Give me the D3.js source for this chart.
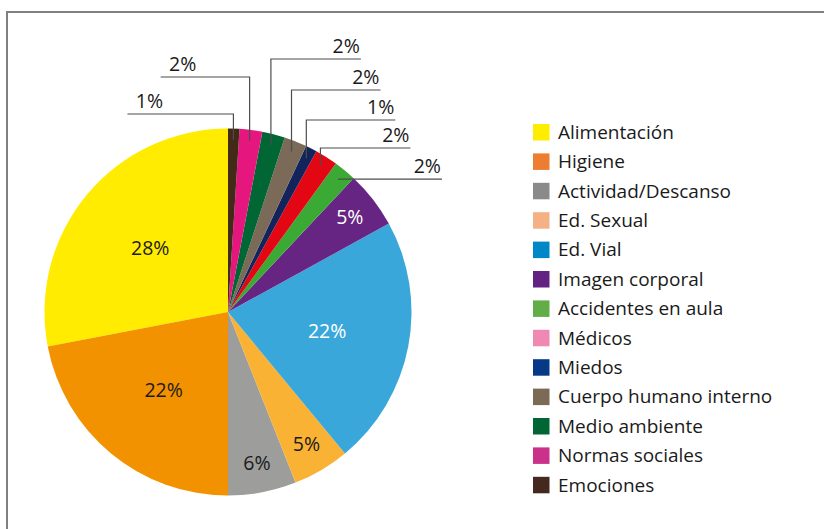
<!DOCTYPE html>
<html><head><meta charset="utf-8">
<script src="https://cdn.jsdelivr.net/npm/d3@7"></script>
<style>
html,body{margin:0;padding:0;background:#fff;}
svg{display:block;font-family:"Open Sans",sans-serif;}
</style></head>
<body>
<svg id="chart" width="824" height="529"></svg>
<script>
// ---- data ----
const categories = ["Alimentación","Higiene","Actividad/Descanso","Ed. Sexual","Ed. Vial","Imagen corporal","Accidentes en aula","Médicos","Miedos","Cuerpo humano interno","Medio ambiente","Normas sociales","Emociones"];
const values = [28,22,6,5,22,5,2,2,1,2,2,2,1];
const sliceColors = ["#ffec00","#f39200","#9d9d9c","#f9b233","#3aa7db","#662483","#3aaa35","#e30613","#13235b","#7b6a58","#006633","#e5177e","#432918"];
const legendColors = ["#ffed00","#ed7d31","#8a8a8a","#f4b183","#0087c7","#632282","#62ad47","#ef88b3","#063a87","#7b6a55","#006633","#c9318a","#45291e"];
const labelTextColors = ["#1a1a1a","#1a1a1a","#1a1a1a","#1a1a1a","#ffffff","#ffffff"];

// ---- layout (positions, not data) ----
const W = 824, H = 529;
const cx = 228, cy = 312, R = 183.5;
// outside-leader layout for the small slices: index, side, y offset from pie top, line length
const leaders = [
  {i:6, side:"right", dy:null, len:104},
  {i:7, side:"right", dy:19.5, len:90},
  {i:8, side:"right", dy:-8.5, len:89},
  {i:9, side:"right", dy:-38.5, len:89},
  {i:10, side:"right", dy:-69.5, len:90},
  {i:11, side:"left", dy:-51.5, len:89},
  {i:12, side:"left", dy:-14.5, len:106}
];

const svg = d3.select("#chart");

// frame
svg.append("line").attr("x1",7).attr("y1",12).attr("x2",W).attr("y2",12)
  .attr("stroke","#808080").attr("stroke-width",2);
svg.append("line").attr("x1",7).attr("y1",11).attr("x2",7).attr("y2",H)
  .attr("stroke","#808080").attr("stroke-width",2);

const pie = d3.pie().sort(null).value(d=>d).startAngle(0).endAngle(-2*Math.PI);
const arcs = pie(values);
const arc = d3.arc().innerRadius(0).outerRadius(R);

const g = svg.append("g").attr("transform",`translate(${cx},${cy})`);
g.selectAll("path.slice").data(arcs).enter().append("path")
  .attr("class","slice")
  .attr("d",arc)
  .attr("fill",(d,i)=>sliceColors[i]);

const mid = d => (d.startAngle + d.endAngle)/2;
const pt = (a, r) => [Math.sin(a)*r, -Math.cos(a)*r];

// inside labels for larger slices
arcs.forEach((d,i)=>{
  if (values[i] < 5) return;
  const f = values[i] >= 10 ? 0.55 : 0.84;
  const [x,y] = pt(mid(d), R*f);
  g.append("text").attr("x",x).attr("y",y).attr("dy","0.35em")
    .attr("text-anchor","middle")
    .attr("font-size",19.5)
    .attr("fill",labelTextColors[i] || "#1a1a1a")
    .text(values[i]+"%");
});

// leader labels for small slices
const topY = -R;
leaders.forEach(L=>{
  const d = arcs[L.i];
  const [ax, ay] = pt(mid(d), R*0.94);
  const ly = L.dy === null ? ay : topY + L.dy;
  const x0 = ax, x1 = L.side === "right" ? ax + L.len : ax - L.len;
  const pts = L.dy === null ? [[x0,ly],[x1,ly]] : [[x1,ly],[x0,ly],[x0,ay]];
  g.append("path").attr("d", d3.line()(pts))
    .attr("fill","none").attr("stroke","#4d4d4d").attr("stroke-width",1.2);
  const tx = L.side === "right" ? x1 - 1 : x1 + 22;
  g.append("text").attr("x",tx).attr("y",ly-6)
    .attr("text-anchor", L.side === "right" ? "end" : "middle")
    .attr("font-size",19.5).attr("fill","#1a1a1a")
    .text(values[L.i]+"%");
});

// legend
const lx = 533, ly0 = 132, step = 29.4;
const leg = svg.append("g");
categories.forEach((c,i)=>{
  const y = ly0 + i*step;
  leg.append("rect").attr("x",lx).attr("y",y-8).attr("width",16.5).attr("height",16.5)
    .attr("fill",legendColors[i]);
  leg.append("text").attr("x",558).attr("y",y).attr("dy","0.36em")
    .attr("font-size",19).attr("fill","#1a1a1a").text(c);
});
</script>
</body></html>
